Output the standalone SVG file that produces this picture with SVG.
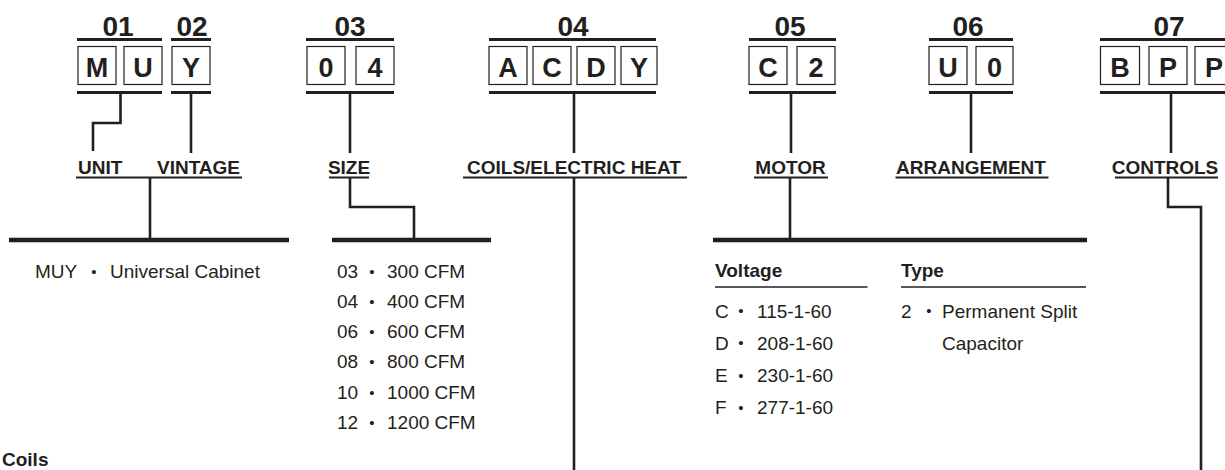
<svg xmlns="http://www.w3.org/2000/svg" width="1225" height="470" viewBox="0 0 1225 470">
<style>
  text { font-family: "Liberation Sans", Arial, sans-serif; fill: #231f20; }
  .num { font-size: 28px; font-weight: bold; text-anchor: middle; }
  .let { font-size: 27px; font-weight: bold; text-anchor: middle; }
  .lab { font-size: 19px; font-weight: bold; text-anchor: middle; }
  .hd { font-size: 19px; font-weight: bold; }
  .txt { font-size: 19px; }
  .bul { font-size: 15px; text-anchor: middle; }
  .box { fill: #ffffff; stroke: #231f20; stroke-width: 1.2; }
  .rule { stroke: #231f20; stroke-width: 2.8; fill: none; }
  .ul { stroke: #231f20; stroke-width: 2.2; fill: none; }
  .con { stroke: #231f20; stroke-width: 2.6; fill: none; }
  .bar { stroke: #231f20; stroke-width: 4.6; fill: none; }
  .thin { stroke: #231f20; stroke-width: 1.4; fill: none; }
</style>

<g id="code-01">
  <text class="num" x="118" y="35.5">01</text>
  <line class="rule" x1="77" y1="39.5" x2="162" y2="39.5"/>
  <rect class="box" x="78" y="46.5" width="38" height="38"/>
  <text class="let" x="97" y="76.5">M</text>
  <rect class="box" x="124" y="46.5" width="38" height="38"/>
  <text class="let" x="143" y="76.5">U</text>
  <line class="rule" x1="77" y1="92.5" x2="162" y2="92.5"/>
</g>
<g id="code-02">
  <text class="num" x="192" y="35.5">02</text>
  <line class="rule" x1="171" y1="39.5" x2="211" y2="39.5"/>
  <rect class="box" x="172" y="46.5" width="38" height="38"/>
  <text class="let" x="191" y="76.5">Y</text>
  <line class="rule" x1="171" y1="92.5" x2="211" y2="92.5"/>
</g>
<g id="code-03">
  <text class="num" x="350" y="35.5">03</text>
  <line class="rule" x1="306" y1="39.5" x2="394" y2="39.5"/>
  <rect class="box" x="307" y="46.5" width="38" height="38"/>
  <text class="let" x="326" y="76.5">0</text>
  <rect class="box" x="356" y="46.5" width="38" height="38"/>
  <text class="let" x="375" y="76.5">4</text>
  <line class="rule" x1="306" y1="92.5" x2="394" y2="92.5"/>
</g>
<g id="code-04">
  <text class="num" x="573" y="35.5">04</text>
  <line class="rule" x1="489" y1="39.5" x2="656" y2="39.5"/>
  <rect class="box" x="489" y="46.5" width="38" height="38"/>
  <text class="let" x="508" y="76.5">A</text>
  <rect class="box" x="533" y="46.5" width="38" height="38"/>
  <text class="let" x="552" y="76.5">C</text>
  <rect class="box" x="577" y="46.5" width="38" height="38"/>
  <text class="let" x="596" y="76.5">D</text>
  <rect class="box" x="621" y="46.5" width="36" height="38"/>
  <text class="let" x="639" y="76.5">Y</text>
  <line class="rule" x1="489" y1="92.5" x2="656" y2="92.5"/>
</g>
<g id="code-05">
  <text class="num" x="790" y="35.5">05</text>
  <line class="rule" x1="749" y1="39.5" x2="836" y2="39.5"/>
  <rect class="box" x="749" y="46.5" width="38" height="38"/>
  <text class="let" x="768" y="76.5">C</text>
  <rect class="box" x="797" y="46.5" width="38" height="38"/>
  <text class="let" x="816" y="76.5">2</text>
  <line class="rule" x1="749" y1="92.5" x2="836" y2="92.5"/>
</g>
<g id="code-06">
  <text class="num" x="968" y="35.5">06</text>
  <line class="rule" x1="929" y1="39.5" x2="1013" y2="39.5"/>
  <rect class="box" x="929" y="46.5" width="38" height="38"/>
  <text class="let" x="948" y="76.5">U</text>
  <rect class="box" x="976" y="46.5" width="37" height="38"/>
  <text class="let" x="994.5" y="76.5">0</text>
  <line class="rule" x1="929" y1="92.5" x2="1013" y2="92.5"/>
</g>
<g id="code-07">
  <text class="num" x="1169" y="35.5">07</text>
  <line class="rule" x1="1100" y1="39.5" x2="1230" y2="39.5"/>
  <rect class="box" x="1100.5" y="46.5" width="39" height="38"/>
  <text class="let" x="1120" y="76.5">B</text>
  <rect class="box" x="1149" y="46.5" width="38" height="38"/>
  <text class="let" x="1168" y="76.5">P</text>
  <rect class="box" x="1195" y="46.5" width="38" height="38"/>
  <text class="let" x="1214" y="76.5">P</text>
  <line class="rule" x1="1100" y1="92.5" x2="1230" y2="92.5"/>
</g>

<g id="labels">
  <text class="hd" x="78" y="173.5">UNIT</text>
  <text class="lab" x="198.5" y="173.5">VINTAGE</text>
  <line class="ul" x1="76" y1="177.5" x2="242" y2="177.5"/>
  <text class="lab" x="349" y="173.5">SIZE</text>
  <line class="ul" x1="329" y1="177.5" x2="369" y2="177.5"/>
  <text class="lab" x="574" y="173.5">COILS/ELECTRIC HEAT</text>
  <line class="ul" x1="463" y1="177.5" x2="687" y2="177.5"/>
  <text class="lab" x="790.5" y="173.5">MOTOR</text>
  <line class="ul" x1="754" y1="177.5" x2="828" y2="177.5"/>
  <text class="lab" x="971" y="173.5">ARRANGEMENT</text>
  <line class="ul" x1="895.5" y1="177.5" x2="1048.5" y2="177.5"/>
  <text class="lab" x="1165" y="173.5">CONTROLS</text>
  <line class="ul" x1="1115" y1="177.5" x2="1218" y2="177.5"/>
</g>

<g id="connectors">
  <polyline class="con" points="120.5,93 120.5,123 93,123 93,151"/>
  <line class="con" x1="191" y1="93" x2="191" y2="153"/>
  <line class="con" x1="150" y1="178" x2="150" y2="240"/>
  <line class="con" x1="350" y1="93" x2="350" y2="153"/>
  <polyline class="con" points="350,178 350,207 414,207 414,240"/>
  <line class="con" x1="574" y1="93" x2="574" y2="153"/>
  <line class="con" x1="574" y1="178" x2="574" y2="470"/>
  <line class="con" x1="791" y1="93" x2="791" y2="153"/>
  <line class="con" x1="790" y1="178" x2="790" y2="240"/>
  <line class="con" x1="971" y1="93" x2="971" y2="153"/>
  <line class="con" x1="1171" y1="93" x2="1171" y2="153"/>
  <polyline class="con" points="1168,178 1168,207 1201,207 1201,470"/>
  <line class="bar" x1="9" y1="240" x2="289" y2="240"/>
  <line class="bar" x1="332" y1="240" x2="491" y2="240"/>
  <line class="bar" x1="713" y1="240" x2="1087" y2="240"/>
</g>

<g id="unit-options">
  <text class="txt" x="35" y="278">MUY</text>
  <text class="bul" x="94" y="276.5">•</text>
  <text class="txt" x="110" y="278">Universal Cabinet</text>
</g>

<g id="size-options">
  <text class="txt" x="337" y="278">03</text><text class="bul" x="372" y="276.5">•</text><text class="txt" x="387" y="278">300 CFM</text>
  <text class="txt" x="337" y="308">04</text><text class="bul" x="372" y="306.5">•</text><text class="txt" x="387" y="308">400 CFM</text>
  <text class="txt" x="337" y="338">06</text><text class="bul" x="372" y="336.5">•</text><text class="txt" x="387" y="338">600 CFM</text>
  <text class="txt" x="337" y="368">08</text><text class="bul" x="372" y="366.5">•</text><text class="txt" x="387" y="368">800 CFM</text>
  <text class="txt" x="337" y="399">10</text><text class="bul" x="372" y="397.5">•</text><text class="txt" x="387" y="399">1000 CFM</text>
  <text class="txt" x="337" y="429">12</text><text class="bul" x="372" y="427.5">•</text><text class="txt" x="387" y="429">1200 CFM</text>
</g>

<g id="motor-options">
  <text class="hd" x="715" y="277">Voltage</text>
  <line class="thin" x1="715" y1="287" x2="867.5" y2="287"/>
  <text class="hd" x="901" y="277">Type</text>
  <line class="thin" x1="901" y1="287" x2="1086" y2="287"/>
  <text class="txt" x="715" y="317.5">C</text><text class="bul" x="741" y="316">•</text><text class="txt" x="757" y="317.5">115-1-60</text>
  <text class="txt" x="715" y="349.5">D</text><text class="bul" x="741" y="348">•</text><text class="txt" x="757" y="349.5">208-1-60</text>
  <text class="txt" x="715" y="382">E</text><text class="bul" x="741" y="380.5">•</text><text class="txt" x="757" y="382">230-1-60</text>
  <text class="txt" x="715" y="414">F</text><text class="bul" x="741" y="412.5">•</text><text class="txt" x="757" y="414">277-1-60</text>
  <text class="txt" x="901" y="317.5">2</text><text class="bul" x="929" y="316">•</text><text class="txt" x="942" y="317.5">Permanent Split</text>
  <text class="txt" x="942" y="349.5">Capacitor</text>
</g>

<g id="coils-heading">
  <text class="hd" x="2" y="466">Coils</text>
</g>
</svg>
